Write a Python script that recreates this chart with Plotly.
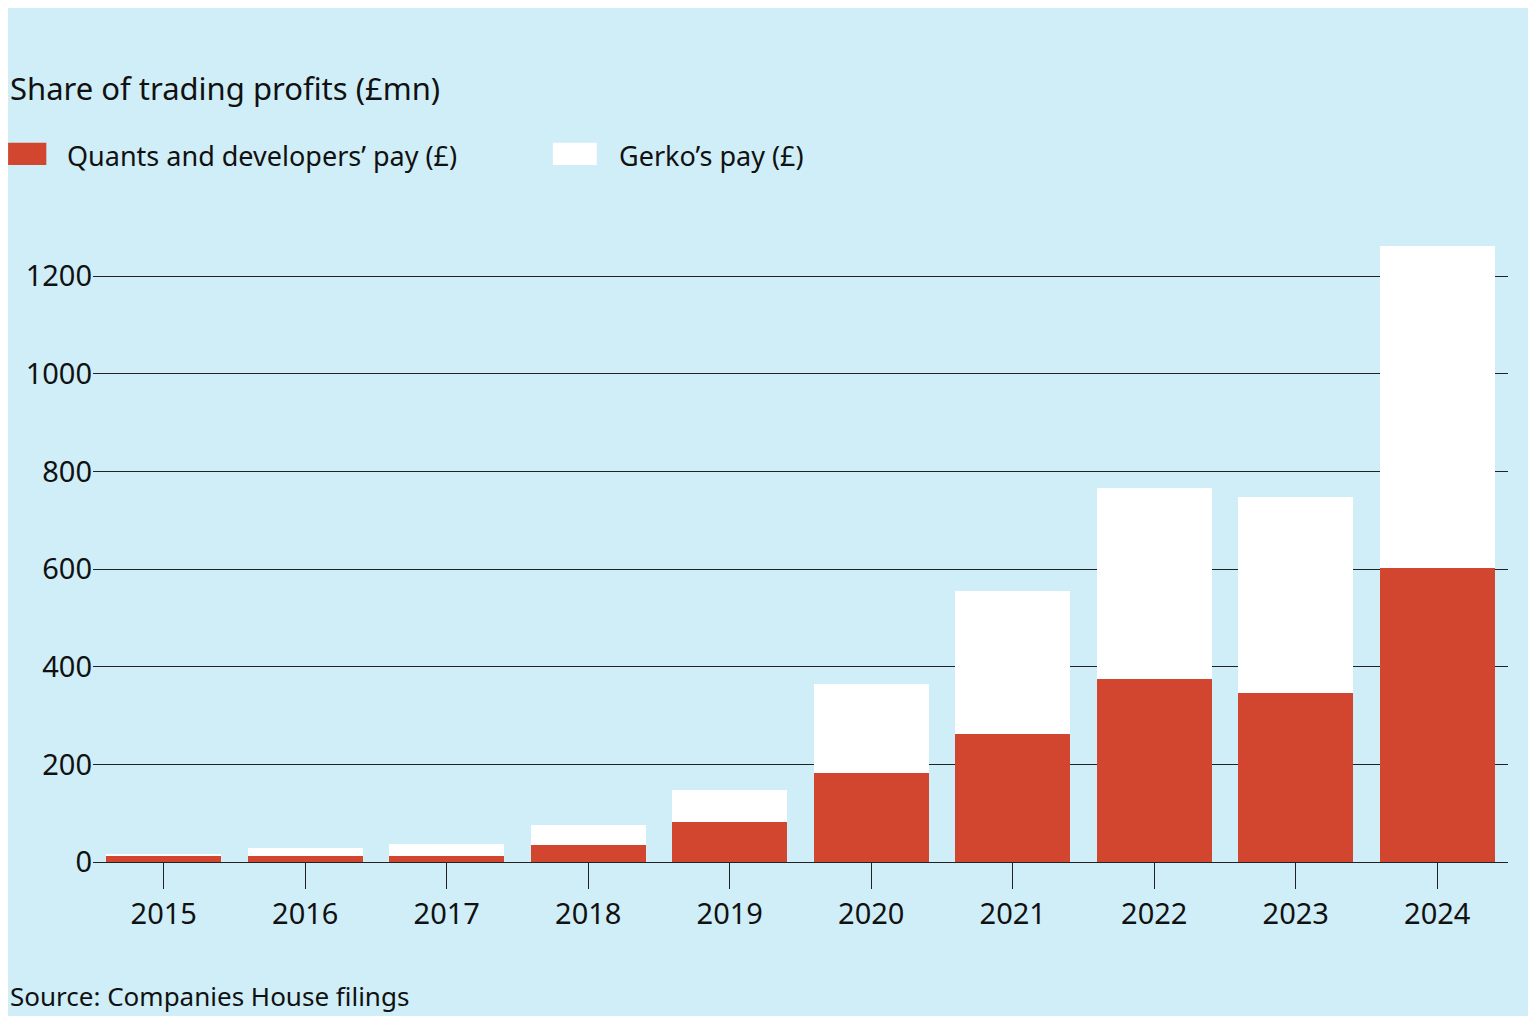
import plotly.graph_objects as go

years = ["2015","2016","2017","2018","2019","2020","2021","2022","2023","2024"]
quants = [14, 12, 12, 35, 82, 182, 262, 375, 346, 602]
gerko = [1, 17, 25, 41, 65, 183, 293, 391, 401, 659]

RED = "#d2452f"
fig = go.Figure()
fig.add_bar(x=years, y=quants, name="Quants and developers' pay (£)", marker_color=RED, marker_line_width=0)
fig.add_bar(x=years, y=gerko, name="Gerko's pay (£)", marker_color="#ffffff", marker_line_width=0)

fig.update_layout(
    barmode="stack", bargap=0.19,
    width=1520, height=1008,
    paper_bgcolor="#d0eef7", plot_bgcolor="#d0eef7",
    font=dict(family="Noto Sans", size=29, color="#111"),
    margin=dict(l=85, r=20, t=234, b=154),
    showlegend=False,
)
fig.add_annotation(text="Share of trading profits (£mn)", xref="paper", yref="paper", x=-0.060, y=1.248,
                   xanchor="left", yanchor="middle", showarrow=False, font=dict(size=31))
fig.add_annotation(text="Source: Companies House filings", xref="paper", yref="paper", x=-0.060, y=-0.216,
                   xanchor="left", yanchor="middle", showarrow=False, font=dict(size=26))
fig.add_shape(type="rect", xref="paper", yref="paper", x0=-0.060, x1=-0.033, y0=1.124, y1=1.160,
              fillcolor=RED, line_width=0)
fig.add_annotation(text="Quants and developers’ pay (£)", xref="paper", yref="paper", x=-0.0198, y=1.140,
                   xanchor="left", yanchor="middle", showarrow=False, font=dict(size=27))
fig.add_shape(type="rect", xref="paper", yref="paper", x0=0.325, x1=0.356, y0=1.124, y1=1.160,
              fillcolor="#ffffff", line_width=0)
fig.add_annotation(text="Gerko’s pay (£)", xref="paper", yref="paper", x=0.370, y=1.140,
                   xanchor="left", yanchor="middle", showarrow=False, font=dict(size=27))
fig.update_yaxes(range=[0, 1270], tickvals=[0,200,400,600,800,1000,1200], showgrid=True,
                 gridcolor="#222", gridwidth=1.3, zeroline=False, showline=False, ticks="")
fig.update_xaxes(showline=True, linecolor="#222", linewidth=1.3, ticks="outside", ticklen=26,
                 tickcolor="#222", tickwidth=1.3, showgrid=False)
fig.write_html("out.html")
